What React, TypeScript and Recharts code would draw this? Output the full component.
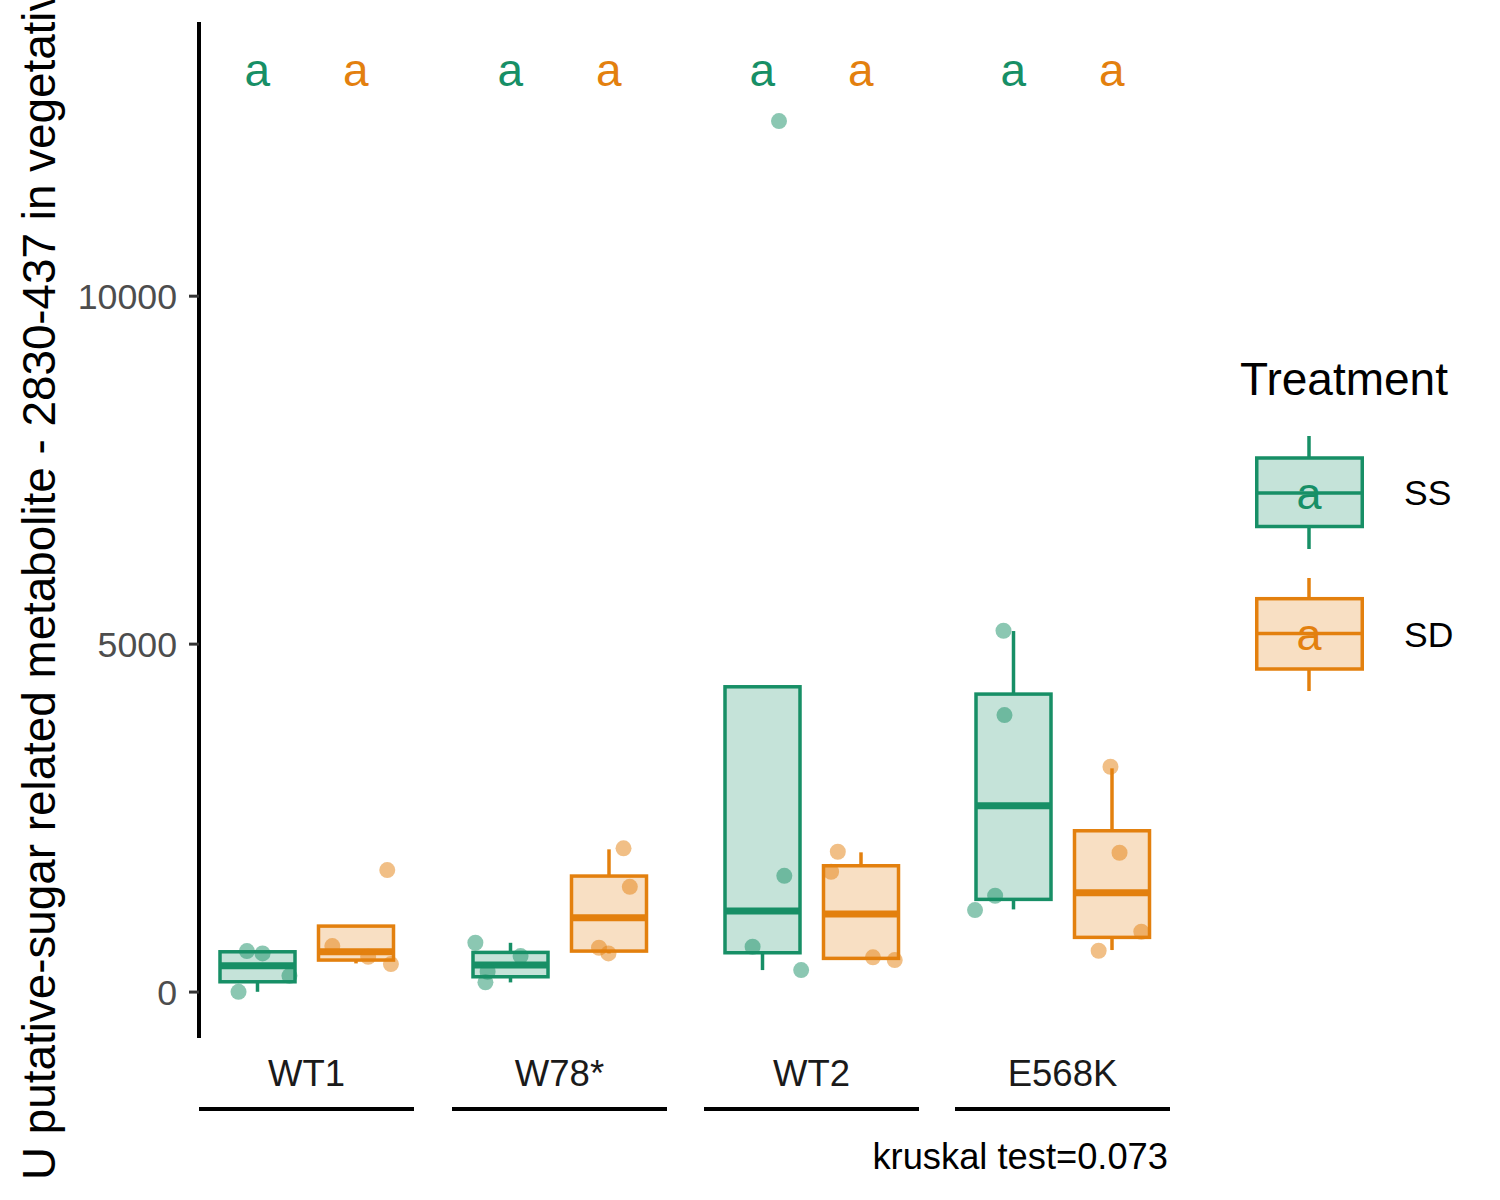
import React from 'react';
import { ComposedChart, Bar, Scatter, XAxis, YAxis } from 'recharts';

const genotypes = ['WT1', 'W78*', 'WT2', 'E568K'];
const treatments = ['SS', 'SD'];
const colors = ['#178F66', '#E3800E'];

// boxplot stats, one value per genotype
const ssMin = [4, 139, 316, 1188];
const ssQ1 = [148, 220, 565, 1332];
const ssMed = [378, 388, 1164, 2677];
const ssQ3 = [579, 570, 4387, 4282];
const ssMax = [589, 708, 4387, 5188];

const sdMin = [412, 556, 470, 604];
const sdQ1 = [460, 589, 484, 786];
const sdMed = [579, 1068, 1121, 1427];
const sdQ3 = [948, 1667, 1815, 2318];
const sdMax = [948, 2051, 2008, 3215];

// raw points and their horizontal jitter (1 = distance between the two boxes)
const ssPoints = [
  [4, 589, 556, 234],
  [709, 517, 140, 292],
  [651, 1671, 316, 12516],
  [5192, 3980, 1384, 1178],
];
const ssJitter = [
  [-0.19, -0.105, 0.054, 0.327],
  [-0.354, 0.105, -0.252, -0.23],
  [-0.098, 0.224, 0.395, 0.17],
  [-0.099, -0.089, -0.184, -0.388],
];
const sdPoints = [
  [661, 507, 402, 1753],
  [2065, 1513, 637, 556],
  [2016, 1729, 499, 460],
  [3238, 2002, 867, 594],
];
const sdJitter = [
  [-0.238, 0.126, 0.357, 0.32],
  [0.15, 0.214, -0.099, -0.003],
  [-0.233, -0.301, 0.124, 0.345],
  [-0.013, 0.079, 0.3, -0.133],
];

const letters = [
  ['a', 'a'],
  ['a', 'a'],
  ['a', 'a'],
  ['a', 'a'],
];
const LETTER_Y = 13020;

const yTicks = [0, 5000, 10000];
const yDomain = [-660, 13940];
const yTitle = 'U putative-sugar related metabolite - 2830-437 in vegetative tissue';
const kruskal = 'kruskal test=0.073';

const FONT = '"Liberation Sans", Arial, Helvetica, sans-serif';
const PANEL_LEFT = [199, 452, 704, 955];
const PANEL_W = 215;
const PAD = { left: 9, right: 9 };

function BoxShape(props: any) {
  const { x, y, width, height, payload } = props;
  const b = payload;
  const k = height / (b.q3 - b.q1);
  const py = (v: number) => y + (b.q3 - v) * k;
  const cx = x + width / 2;
  return (
    <g>
      <line x1={cx} x2={cx} y1={py(b.max)} y2={py(b.q3)} stroke={b.color} strokeWidth={3.5} />
      <line x1={cx} x2={cx} y1={py(b.q1)} y2={py(b.min)} stroke={b.color} strokeWidth={3.5} />
      <rect x={x} y={y} width={width} height={height} fill={b.color} fillOpacity={0.25} stroke={b.color} strokeWidth={3.5} />
      <line x1={x} x2={x + width} y1={py(b.med)} y2={py(b.med)} stroke={b.color} strokeWidth={7} />
    </g>
  );
}

function dot(color: string) {
  return (p: any) => <circle cx={p.cx} cy={p.cy} r={8} fill={color} fillOpacity={0.5} />;
}

function Letter(p: any) {
  return (
    <text x={p.cx} y={p.cy} textAnchor="middle" fontSize={46} fill={p.payload.color}>
      {p.payload.t}
    </text>
  );
}

function Panel({ i }: { i: number }) {
  const boxes = [
    { treatment: treatments[0], min: ssMin[i], q1: ssQ1[i], med: ssMed[i], q3: ssQ3[i], max: ssMax[i], color: colors[0] },
    { treatment: treatments[1], min: sdMin[i], q1: sdQ1[i], med: sdMed[i], q3: sdQ3[i], max: sdMax[i], color: colors[1] },
  ];
  const ss = ssPoints[i].map((v, k) => ({ jx: ssJitter[i][k], v }));
  const sd = sdPoints[i].map((v, k) => ({ jx: 1 + sdJitter[i][k], v }));
  const labs = letters[i].map((t, k) => ({ jx: k, v: LETTER_Y, t, color: colors[k] }));
  const first = i === 0;
  const yw = first ? PANEL_LEFT[0] : 0;

  return (
    <div style={{ position: 'absolute', left: PANEL_LEFT[i] - yw, top: 0 }}>
      <ComposedChart width={PANEL_W + yw} height={1200} data={boxes} margin={{ top: 22, bottom: 162, left: 0, right: 0 }}>
        <XAxis xAxisId="cat" dataKey="treatment" type="category" hide padding={PAD} />
        <XAxis xAxisId="num" dataKey="jx" type="number" domain={[-0.5, 1.5]} allowDataOverflow hide padding={PAD} />
        <YAxis
          type="number"
          domain={yDomain}
          ticks={yTicks}
          interval={0}
          allowDataOverflow
          hide={!first}
          width={yw}
          tickSize={10}
          tickMargin={12}
          axisLine={{ stroke: '#000', strokeWidth: 4 }}
          tickLine={{ stroke: '#333', strokeWidth: 3 }}
          tick={{ fill: '#4D4D4D', fontSize: 35.7 }}
        />
        <Bar xAxisId="cat" dataKey={(d: any) => [d.q1, d.q3]} barSize={75} shape={BoxShape} isAnimationActive={false} />
        <Scatter xAxisId="num" data={ss} dataKey="v" shape={dot(colors[0])} isAnimationActive={false} />
        <Scatter xAxisId="num" data={sd} dataKey="v" shape={dot(colors[1])} isAnimationActive={false} />
        <Scatter xAxisId="num" data={labs} dataKey="v" shape={Letter} isAnimationActive={false} />
      </ComposedChart>
    </div>
  );
}

function Overlay() {
  const keys = [
    { top: 436, box: [458, 526.5], med: 493, bottom: 549, label: 505 },
    { top: 578, box: [598.7, 669], med: 633.5, bottom: 691, label: 647 },
  ];
  return (
    <svg width={1500} height={1200} style={{ position: 'absolute', left: 0, top: 0 }}>
      <text transform="translate(55,1180) rotate(-90)" fontSize={45.8} fill="#000">
        {yTitle}
      </text>
      {genotypes.map((g, i) => (
        <g key={g}>
          <text x={PANEL_LEFT[i] + PANEL_W / 2} y={1086} textAnchor="middle" fontSize={36.5} fill="#1A1A1A">
            {g}
          </text>
          <line x1={PANEL_LEFT[i]} x2={PANEL_LEFT[i] + PANEL_W} y1={1109} y2={1109} stroke="#000" strokeWidth={4} />
        </g>
      ))}
      <text x={1168} y={1169} textAnchor="end" fontSize={36.3} fill="#000">
        {kruskal}
      </text>
      <text x={1240} y={395} fontSize={46} fill="#000">
        Treatment
      </text>
      {keys.map((k, i) => (
        <g key={treatments[i]}>
          <line x1={1309} x2={1309} y1={k.top} y2={k.bottom} stroke={colors[i]} strokeWidth={3.5} />
          <rect x={1256.75} y={k.box[0]} width={105.5} height={k.box[1] - k.box[0]} fill="#fff" />
          <rect x={1256.75} y={k.box[0]} width={105.5} height={k.box[1] - k.box[0]} fill={colors[i]} fillOpacity={0.25} stroke={colors[i]} strokeWidth={3.5} />
          <line x1={1256.75} x2={1362.25} y1={k.med} y2={k.med} stroke={colors[i]} strokeWidth={3.5} />
          <text x={1309} y={k.med + 16} textAnchor="middle" fontSize={45} fill={colors[i]}>
            {letters[0][i]}
          </text>
          <text x={1404} y={k.label} fontSize={35.5} fill="#000">
            {treatments[i]}
          </text>
        </g>
      ))}
    </svg>
  );
}

export default function App() {
  return (
    <div style={{ position: 'absolute', left: 0, top: 0, width: 1500, height: 1200, background: '#fff', fontFamily: FONT }}>
      <Overlay />
      {genotypes.map((g, i) => (
        <Panel key={g} i={i} />
      ))}
    </div>
  );
}
